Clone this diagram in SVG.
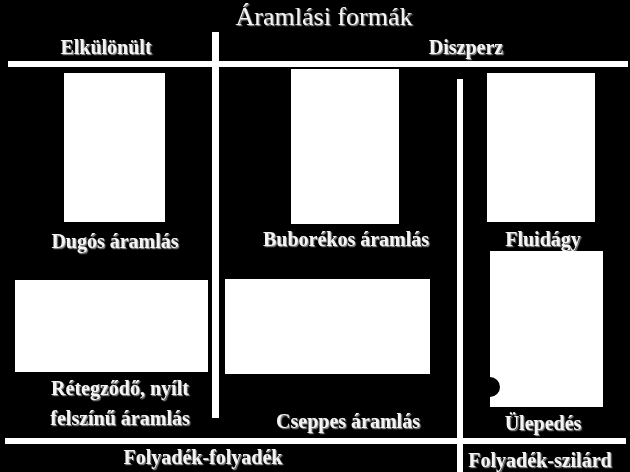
<svg xmlns="http://www.w3.org/2000/svg" width="630" height="472" viewBox="0 0 630 472">
  <defs>
    <filter id="emboss" x="-10%" y="-30%" width="120%" height="160%">
      <feDropShadow dx="1.2" dy="1.2" stdDeviation="0.6" flood-color="#8a8a8a" flood-opacity="1"/>
    </filter>
  </defs>
  <style>
    .bg { fill: #000000; }
    .line { fill: #ffffff; }
    .box { fill: #ffffff; }
    .lbl { font-family: "Liberation Serif", "DejaVu Serif", serif; font-size: 20px; font-weight: bold; fill: #f4f4f4; text-anchor: middle; filter: url(#emboss); }
    .title { font-size: 26px; font-weight: normal; }
  </style>
  <rect class="bg" x="0" y="0" width="630" height="472"/>

  <g id="dividers">
    <rect class="line" x="8" y="61" width="620" height="6"/>
    <rect class="line" x="212" y="32" width="7" height="386"/>
    <rect class="line" x="457" y="79" width="6" height="393"/>
    <rect class="line" x="5" y="438" width="621" height="6"/>
  </g>

  <g id="title">
    <text class="lbl title" x="324" y="25">Áramlási formák</text>
  </g>
  <g id="hdr-elkulonult">
    <text class="lbl" x="106" y="54">Elkülönült</text>
  </g>
  <g id="hdr-diszperz">
    <text class="lbl" x="466" y="54">Diszperz</text>
  </g>

  <g id="node-dugos">
    <rect class="box" x="64" y="73" width="101" height="149"/>
    <text class="lbl" x="115" y="248">Dugós áramlás</text>
  </g>
  <g id="node-buborekos">
    <rect class="box" x="291" y="69" width="108" height="155"/>
    <text class="lbl" x="346" y="246">Buborékos áramlás</text>
  </g>
  <g id="node-fluidagy">
    <rect class="box" x="487" y="73" width="108" height="149"/>
    <text class="lbl" x="543" y="246">Fluidágy</text>
  </g>
  <g id="node-retegzodo">
    <rect class="box" x="15" y="280" width="193" height="92"/>
    <text class="lbl" x="120" y="395">Rétegződő, nyílt</text>
    <text class="lbl" x="120" y="425">felszínű áramlás</text>
  </g>
  <g id="node-cseppes">
    <rect class="box" x="225" y="279" width="205" height="95"/>
    <text class="lbl" x="348" y="428">Cseppes áramlás</text>
  </g>
  <g id="node-ulepedes">
    <rect class="box" x="490" y="251" width="113" height="156"/>
    <circle cx="490" cy="387" r="10" fill="#000000"/>
    <text class="lbl" x="543" y="430">Ülepedés</text>
  </g>

  <g id="ftr-ff">
    <text class="lbl" x="203" y="464">Folyadék-folyadék</text>
  </g>
  <g id="ftr-fsz">
    <text class="lbl" x="540" y="467">Folyadék-szilárd</text>
  </g>
</svg>
